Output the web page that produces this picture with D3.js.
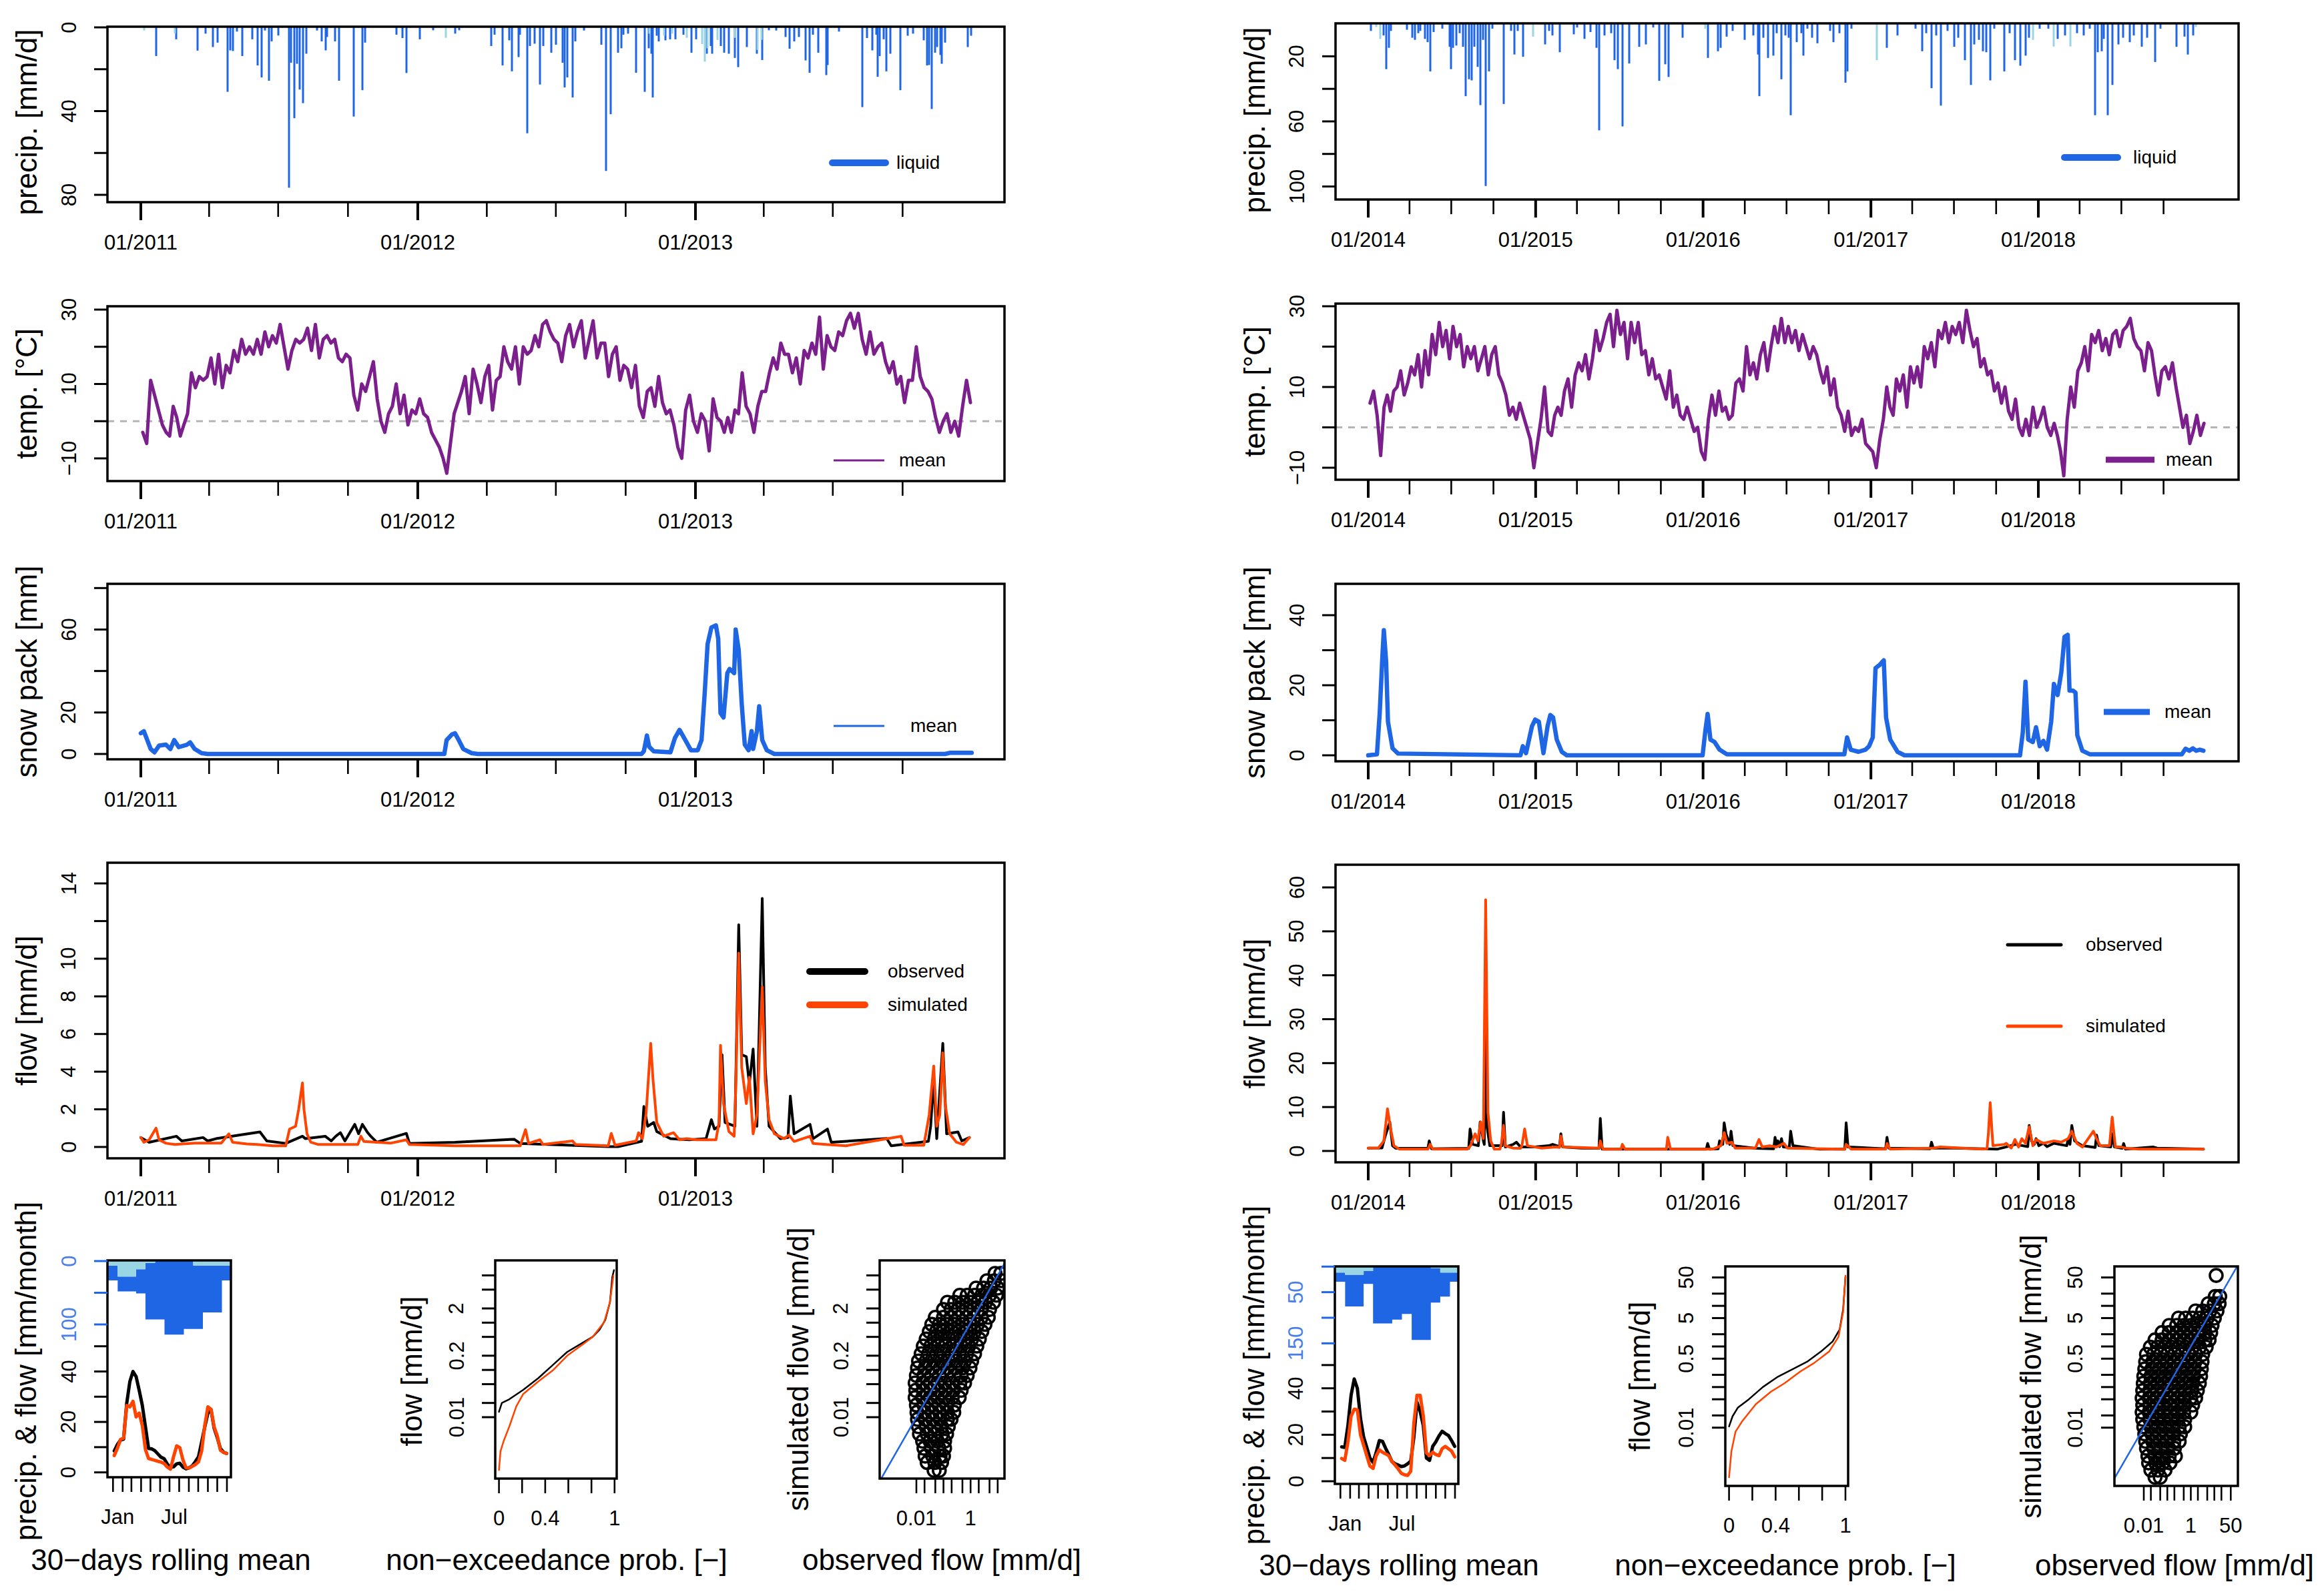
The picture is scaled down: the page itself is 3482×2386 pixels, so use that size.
<!DOCTYPE html>
<html lang="en">
<head>
<meta charset="UTF-8">
<title>Hydrological model overview</title>
<script src="https://d3js.org/d3.v7.min.js"></script>
<style>
  body { margin: 0; background: #fff; }
  text { font-family: "Liberation Sans", Arial, sans-serif; }
</style>
</head>
<body>
<script>
// ---------- data: 2011-2013 (left) ----------
// temperature, 6 readings per month from Jan 2011
const tempL = [
 -3,-6,11,7,3,-1, -3,-4,4,1,-4,-1, 2,13,9,12,11,12, 17,10,18,9,15,13, 19,16,22,18,20,18, 22,18,24,20,23,21,
 26,20,14,19,22,21, 22,25,19,26,17,22, 23,21,22,17,16,18, 17,7,3,10,8,12, 16,6,0,-3,2,4, 10,2,7,-1,3,2,
 6,2,1,-3,-5,-7, -10,-14,-6,2,5,8, 12,2,14,10,5,12, 15,3,11,12,20,16, 14,20,10,20,18,19, 23,20,26,27,24,22,
 21,16,23,26,20,24, 27,17,22,27,17,21, 21,12,18,20,11,15, 14,9,15,4,1,8, 9,4,12,5,2,3, -1,-7,-10,3,7,0,
 -3,2,0,-8,6,1, 0,-3,1,-3,3,2, 13,4,2,-3,4,8, 8,13,17,14,21,18, 18,13,17,10,19,17, 21,18,28,14,23,20,
 19,24,23,27,29,25, 29,22,18,24,18,20, 21,16,13,16,10,12, 5,11,11,20,12,9, 8,6,1,-3,0,2, -3,0,-4,4,11,5
];
// daily precipitation peaks: day since 2011-01-01, mm/d
const precipDayL = [20,47,75,85,95,101,114,118,121,127,134,147,154,159,164,169,172,181,195,198,202,206,209,214,218,232,238,244,245,256,261,281,292,296,337,345,350,368,385,414,420,462,466,477,486,489,498,500,509,513,519,526,530,541,547,556,559,562,569,573,584,607,613,619,629,633,636,642,653,664,669,673,675,680,683,691,698,705,715,726,732,746,751,753,764,769,775,783,787,799,812,819,828,837,850,855,861,867,876,881,886,893,903,905,920,951,957,964,969,971,974,979,983,988,1001,1011,1018,1032,1036,1039,1042,1047,1049,1054,1056,1060,1090,1094];
const precipL = [13.7,5.7,11.1,3,9.4,7.3,30.8,11,11.3,2,13.7,5.7,18.2,23.9,1.5,25.5,6.7,3.9,76.6,16.9,43.4,17.4,29.7,36.2,12.6,1.5,6.7,11,4.6,6.7,25.5,42.6,30,7.3,3.5,5.1,21.8,5.7,1.4,3,1.4,8.9,3.5,18.2,6.2,21,14.2,3.5,50.6,8.9,7.8,27.3,8.9,12.1,8.3,16.9,28.7,23.9,33.5,6.7,1.5,8.3,68.6,41.5,12.1,10,3.5,3,21.7,30.8,10,12.6,33.5,4,6.7,6.2,5.7,5.7,3.5,12.1,5.7,12.6,8.9,12.6,8.9,12.1,12.6,14.6,19,9.4,12.6,15.6,1.4,1.5,4.6,10.2,6.7,4.6,15.8,21.7,3.5,12.1,22.8,18,2,38.1,5.1,11,3.5,23.6,13.7,5.7,21,12.6,30,4,3,6.2,18.2,18,39,12.1,9.4,13.2,17.4,7.3,9.4,4];
const snowfallDayL = [4,45,402,670,690,700,720,740,743,747,760,783,813,818];
const snowfallL = [1.5,3,5,3,4,3,5,8,16.4,10,6,5,10.8,6];
// snow pack break points
const sweDayL = [0,4,13,18,24,33,39,44,50,61,65,71,80,88,400,403,410,414,419,425,436,444,660,663,667,670,676,698,704,710,716,725,734,739,743,747,752,758,761,764,768,773,776,782,784,788,792,796,801,805,807,812,815,819,825,835,1060,1067,1095];
const sweL = [10,11,2.4,0.8,4,4.5,2.4,6.7,3.3,4.5,5.6,2.4,0.4,0,0,6.7,9.4,10,6.7,2.4,0.4,0,0,1.3,8.9,3.5,1.3,0.8,7.8,11.6,7.8,1.8,1.8,6.7,28.4,53,61,62,55.5,19.7,17.6,39,41,39,60,50,24,4.5,1.8,11,2.4,11,23,6.7,1.8,0,0,0.6,0.6];
// streamflow break points
const obsDayL = [0,11,47,54,82,88,99,157,166,191,213,217,243,251,257,263,269,282,287,292,299,303,311,350,354,414,492,500,616,629,660,663,668,676,680,698,723,745,752,756,762,766,770,783,788,792,798,802,807,812,819,823,828,843,853,856,861,882,886,905,910,983,989,1038,1041,1045,1049,1057,1062,1077,1082,1092];
const obsL = [0.5,0.25,0.57,0.32,0.5,0.32,0.44,0.8,0.32,0.19,0.57,0.44,0.57,0.32,0.57,0.76,0.32,1.2,0.7,1.2,0.76,0.57,0.25,0.72,0.19,0.25,0.41,0.19,0.02,0.02,0.3,2.15,1.1,1.3,0.82,0.44,0.38,0.44,1.45,0.95,1.1,4.9,1.3,1.1,11.8,4.9,4.8,3.35,5.2,1.1,13.2,4.2,1.1,0.44,0.5,2.7,0.7,1.2,0.44,0.95,0.25,0.45,0.06,0.3,1.1,3.6,0.44,5.5,0.7,0.8,0.32,0.5];
const simDayL = [0,4,11,20,24,33,45,71,106,116,121,140,153,174,191,196,204,208,213,215,219,224,234,286,290,294,329,350,354,414,500,507,511,526,530,569,573,616,620,625,653,656,661,666,672,675,680,689,702,710,719,732,758,762,764,768,775,782,784,788,792,798,802,807,812,819,823,828,835,848,854,861,882,886,903,929,1002,1006,1032,1039,1045,1049,1053,1057,1060,1066,1075,1084,1092];
const simL = [0.5,0.25,0.38,1.0,0.38,0.2,0.13,0.2,0.2,0.7,0.25,0.16,0.13,0.06,0.06,0.95,1.1,2,3.4,2,0.7,0.25,0.13,0.13,0.57,0.29,0.2,0.38,0.13,0.06,0.06,0.92,0.19,0.38,0.13,0.32,0.13,0.06,0.72,0.09,0.32,0.76,0.44,1.8,5.5,3.6,1.3,0.57,0.76,0.38,0.44,0.38,0.38,1.3,5.4,2.3,0.82,0.57,3,10.3,4.2,2.3,3.7,0.7,1.7,8.5,3.5,1.45,0.7,0.44,0.63,0.29,0.57,0.19,0.13,0.06,0.57,0.09,0.09,1.7,4.3,1.1,1.7,5,2.3,0.7,0.25,0.13,0.5];

// ---------- data: 2014-2018 (right) ----------
// temperature, 4 readings per month from Jan 2014
const tempR = [
 6,9,3,-7, 5,8,4,9, 10,14,8,11, 15,13,18,10, 19,13,23,18, 26,20,24,17, 25,20,23,15, 20,17,20,14, 17,20,13,18, 20,13,11,8, 3,5,2,6, 3,0,-3,-10,
 -4,2,10,-1, -2,3,5,3, 9,12,5,13, 16,14,18,12, 17,24,19,22, 26,28,20,29, 23,26,17,26, 21,26,18,19, 13,17,12,13, 10,7,14,5, 8,3,2,5, 2,-1,0,-6,
 -8,2,8,3, 9,4,5,2, 3,11,12,9, 20,13,16,12, 18,21,14,20, 25,21,27,21, 25,21,24,19, 23,20,17,20, 18,14,11,15, 8,12,5,3, -1,4,-2,0, -1,2,-4,-5,
 -6,-10,-3,2, 10,5,3,12, 9,13,5,15, 11,15,10,20, 17,21,15,24, 22,26,21,25, 23,26,21,29, 24,20,22,15, 17,13,14,9, 11,6,10,4, 2,7,0,-2, 2,-2,5,0,
 2,5,0,-2, 1,-2,-6,-12, 2,10,5,14, 16,20,14,23, 21,24,19,22, 18,23,24,20, 24,25,27,22, 20,19,14,21, 19,13,8,14, 15,12,16,10, 5,0,3,-4, -1,3,-2,1
];
const precipDayR = [6,34,40,45,50,84,96,102,109,113,123,130,135,143,161,177,180,185,192,200,206,213,220,226,231,239,245,250,256,264,270,295,312,318,326,338,386,394,402,417,448,456,472,484,498,504,515,529,537,544,554,569,591,606,622,634,647,655,686,740,763,769,782,794,821,839,850,853,862,872,884,890,901,909,917,921,934,945,949,957,968,979,1007,1014,1028,1041,1045,1053,1131,1154,1193,1208,1216,1228,1239,1249,1263,1278,1286,1301,1314,1322,1332,1340,1348,1356,1365,1387,1399,1410,1422,1433,1441,1464,1483,1503,1519,1545,1560,1573,1585,1591,1599,1604,1613,1622,1635,1646,1661,1669,1686,1698,1716,1728,1762,1779,1787,1798];
const precipR = [4.4,7.2,27.9,14.8,4.4,3.7,8.6,9.9,5.8,4.4,9.3,11.3,29.3,5.1,3,14.1,27.9,14.8,13.4,5.8,14.1,44.5,34.1,34.8,14.1,26.5,50,9.9,99.7,29.3,3,49.3,4.4,18.9,4.4,20.3,12.7,4.4,7.2,17.5,6.5,2.3,9.3,5.1,14.8,65.5,7.2,5.8,22.4,27.9,63.1,24.4,14.1,12.7,2.3,35.1,24.9,32.7,8.6,21,16.9,14.8,7.9,4.4,9.9,7.2,18.9,44.5,8.6,21,19.6,5.8,34.1,7.2,8.6,56.2,11.3,5.8,19.6,3,8.6,12,4.4,11.3,5.8,36.2,29.3,3,14.8,7.2,3,16.9,5.8,39.6,7.2,50.3,4.4,14.1,8.6,22.4,37.6,12.7,9.9,16.9,17.5,34.8,3,29.3,5.8,22.4,25.8,19.6,8.6,3,3,9.3,7.2,5.8,7.2,3,56.2,17.5,16.9,9.3,56.2,37.6,12.7,8.6,11.3,7.2,14.1,8.6,23.5,3,14.1,7.9,18.9,7.2];
const snowfallDayR = [17,26,360,735,1109,1449,1495,1531,1805];
const snowfallR = [2,9.3,7.9,3,22.4,9.9,14,14,2];
const sweDayR = [0,19,25,31,34,39,43,53,65,332,337,344,357,364,372,382,391,397,403,411,422,433,729,735,740,746,755,766,782,1038,1044,1052,1069,1084,1092,1100,1106,1115,1124,1129,1138,1154,1169,1421,1427,1433,1439,1449,1456,1464,1472,1480,1489,1495,1503,1511,1518,1525,1529,1536,1542,1546,1557,1573,1774,1782,1790,1798,1805,1813,1821];
const sweR = [0,0.3,12,28.7,35.7,26.8,9.6,2,0.5,0,2.6,0.6,8.3,10.2,9.6,0.6,8.3,11.5,10.8,4.5,1,0,0,7,11.8,4.5,3.8,1.6,0.3,0.3,5.1,1.6,1,1.6,2.6,5.1,24.9,25.8,27.1,10.8,4.5,1,0,0,6.4,21,4.5,3.8,8,2.6,4.1,1.6,9.6,20.4,17.2,23.6,33.8,34.4,18.5,18.5,17.9,5.7,1.3,0.3,0.3,1.9,1.3,2,1.3,1.6,1.3];
const obsDayR = [0,30,37,47,53,60,130,133,138,219,222,228,240,244,251,253,256,259,265,292,295,299,316,323,332,363,394,402,417,420,424,464,503,506,510,658,737,740,744,763,766,773,776,780,788,791,795,844,884,887,890,893,897,901,905,918,921,926,983,1039,1042,1046,1128,1131,1135,1225,1228,1232,1278,1371,1390,1411,1438,1441,1446,1452,1456,1462,1472,1480,1495,1523,1526,1530,1534,1540,1557,1585,1588,1593,1619,1622,1627,1644,1647,1651,1712,1720,1821];
const obsR = [0.65,0.7,3.4,6.6,1.2,0.6,0.6,2.3,0.5,0.6,5,1.5,1.2,6.6,2.3,1.5,35,5.5,1.2,1.2,8.8,0.9,1.5,2,0.9,0.9,1.2,1.5,1,3.9,0.9,0.65,0.6,7.4,0.4,0.4,0.4,1.7,0.4,0.5,2.3,1.5,6.4,3.9,1.5,4.5,1.2,0.6,0.5,3.1,1.5,2.3,1,2.8,0.9,0.8,4.5,1.2,0.4,0.4,6.4,0.9,0.5,3.1,0.65,0.5,2,0.65,0.65,0.4,0.9,1.5,1,5.8,2.3,1.5,2.8,1.2,1.75,1,1.75,1.2,2.8,1.5,5.8,2.3,1.2,0.8,3.6,1.2,0.9,3.9,0.9,0.6,1.7,0.4,0.9,0.65,0.4];
const simDayR = [0,22,34,42,48,56,68,130,135,141,216,223,233,239,245,251,256,261,267,275,287,290,295,299,316,332,335,341,347,378,409,417,420,425,503,506,512,551,554,560,642,650,653,659,751,769,776,782,793,800,844,852,859,875,890,906,914,1030,1039,1042,1053,1123,1128,1131,1138,1231,1247,1340,1349,1352,1356,1362,1387,1391,1402,1410,1418,1425,1433,1441,1449,1456,1472,1495,1511,1526,1534,1545,1557,1581,1588,1596,1616,1622,1629,1643,1650,1681,1821];
const simR = [0.65,0.65,2.3,9.6,5.5,1.2,0.4,0.4,1.5,0.4,0.4,1.2,3.9,2.3,6.6,2.8,57.2,8.8,2.3,0.4,0.4,1.5,5.8,1.2,0.65,0.6,1.2,5,1.2,0.65,0.9,0.8,3.4,0.9,0.65,2.3,0.4,0.4,1.5,0.4,0.4,0.4,3.1,0.4,0.4,1.2,4.2,1.75,2,0.65,0.65,2.6,0.9,1.2,0.9,1.75,0.65,0.4,0.4,1.5,0.4,0.4,0.4,1.7,0.4,0.65,0.9,0.4,0.5,3.9,11,1.2,1.5,1.75,0.65,2.6,0.9,2.8,1.75,5.5,1.2,2.6,1.75,2.3,2,2.8,4.5,1.75,0.9,4.5,2.8,1.2,1.2,7.7,0.9,0.9,0.65,0.4,0.4];

// ---------- seasonal summaries ----------
const monthMid = [16,45,75,105,136,166,197,228,258,289,319,350];
const monthStart = [1,32,60,91,121,152,182,213,244,274,305,335,366];
const liquidMonL = [23.4,23.4,38,89,92,116,116,107,100,74,74,23.5];
const snowMonL = [24.6,24.6,13,3,0,0,0,0,7,7,7,7];
const liquidMonR = [62,62,25.3,111,111,103.5,92.6,143.4,143.4,67.4,47,17.9];
const snowMonR = [16,16,8.7,0,0,0,0,0,0,3,11.7,11.7];
const rollDoy = [5,15,25,35,45,55,65,75,85,95,105,115,125,135,145,155,165,175,185,195,205,215,225,235,245,255,265,275,285,295,305,315,325,335,345,355,365];
const rollObsL = [8.5,11,12.8,13.2,27.4,36,40,38,32.5,26.5,18,9.5,9.3,8.6,7.3,6,5.4,3.3,2,2.2,3.4,3.6,2.1,1.4,1.8,2.6,4.3,6.2,12,18,23.5,24.9,17.5,13.8,9.5,8,7.5];
const rollSimL = [6.7,9.5,13,13.6,26.5,26,28.2,22,23.5,18.5,9,5.5,5.1,4.8,4.4,4.1,3.5,2.1,1.3,6.2,10.5,9.8,5,1.8,1.8,2.4,3.1,4.2,8.5,18.5,26,25,18,14.5,8.8,7.9,7.5];
const rollObsR = [14.8,14.6,24,37,44,40,27,19,14.6,10,8.1,12.4,17.5,17.2,14.2,11.5,8.5,7.5,7,6.3,6.6,7.5,8.6,19,34,30,24,10,9,15,17,19.5,21.5,20.5,19.7,17.5,15];
const rollSimR = [9.8,9,17,28,31,30.7,20,15.5,11,6.5,5.5,11,13.5,12.5,11.8,11,8.5,7,5.3,3.4,2.8,2.5,4.3,25,37,37,28,12.2,11,12.5,11.5,11,14,15,14,13,10.5];
// flow duration curves
const fdcObsPL = [0,0.025,0.09,0.21,0.34,0.47,0.59,0.72,0.81,0.87,0.92,0.96,0.98,0.995];
const fdcObsL = [0.013,0.02,0.024,0.038,0.067,0.13,0.24,0.37,0.5,0.71,1.15,2.7,9.1,13];
const fdcSimPL = [0,0.013,0.04,0.09,0.15,0.21,0.34,0.47,0.59,0.72,0.81,0.91,0.96,0.99];
const fdcSimL = [0.00076,0.0019,0.0031,0.0064,0.017,0.031,0.057,0.1,0.2,0.34,0.5,1.03,2.7,10];
const fdcObsPR = [0,0.03,0.075,0.17,0.29,0.42,0.54,0.67,0.79,0.89,0.95,0.98,1];
const fdcObsR = [0.0107,0.019,0.031,0.05,0.1,0.18,0.27,0.42,0.75,1.33,2.6,8.2,51];
const fdcSimPR = [0,0.02,0.056,0.11,0.23,0.36,0.48,0.61,0.73,0.86,0.94,0.98,1];
const fdcSimR = [0.0006,0.0026,0.008,0.014,0.038,0.077,0.126,0.24,0.39,0.75,1.72,7.1,55];
// observed vs simulated daily flow: one simulated level per row, observed values in that row
const scatSimRowsL = [11,7.7,5.4,3.8,2.7,1.9,1.3,0.92,0.65,0.45,0.32,0.22,0.155,0.11,0.076,0.053,0.037,0.026,0.018,0.0127,0.009,0.0063,0.0044,0.0031,0.0022,0.0015,0.0011,0.00075];
const scatObsRowsL = [
 [8,13],[4,7.5,14],[1.6,3,5.5,10],[0.4,0.75,1.4,2.6,5,9],[0.14,0.26,0.5,1,1.9,3.6,7],[0.1,0.19,0.36,0.7,1.3,2.5,5],
 [0.05,0.1,0.19,0.36,0.7,1.3,2.5,4.5],[0.037,0.07,0.13,0.25,0.5,0.95,1.8,3.4],[0.03,0.055,0.1,0.2,0.38,0.72,1.4,2.6],
 [0.023,0.045,0.085,0.16,0.3,0.58,1.1,2.1],[0.018,0.034,0.065,0.12,0.24,0.45,0.85,1.7],[0.015,0.028,0.055,0.1,0.2,0.38,0.72,1.4],
 [0.012,0.023,0.045,0.085,0.16,0.3,0.6,1.1],[0.011,0.021,0.04,0.075,0.14,0.27,0.5,0.95],[0.01,0.019,0.036,0.07,0.13,0.25,0.45,0.75],
 [0.009,0.017,0.032,0.06,0.11,0.21,0.4,0.6],[0.0095,0.018,0.034,0.065,0.12,0.23,0.45],[0.009,0.017,0.032,0.06,0.11,0.21,0.38],
 [0.01,0.019,0.036,0.068,0.13,0.25],[0.0105,0.02,0.038,0.072,0.14,0.24],[0.011,0.021,0.04,0.075,0.14,0.19],[0.012,0.023,0.045,0.085,0.15],
 [0.013,0.025,0.048,0.09,0.13],[0.017,0.032,0.06,0.11],[0.019,0.036,0.068,0.11],[0.021,0.04,0.075,0.1],[0.025,0.048,0.085],[0.045,0.07]
];
const scatSimRowsR = [56,17,11.3,7.5,5,3.3,2.2,1.45,0.96,0.64,0.42,0.28,0.186,0.124,0.082,0.054,0.036,0.024,0.016,0.0105,0.007,0.0046,0.0031,0.002,0.00135,0.0009,0.0006];
const scatObsRowsR = [
 [12],[11,17],[5.5,10,16],[1.6,3.2,6.5,13],[0.3,0.6,1.2,2.4,5,10],[0.12,0.25,0.5,1,2,4,8],[0.06,0.12,0.25,0.5,1,2,4,7],
 [0.03,0.06,0.12,0.25,0.5,1,2,4,6],[0.019,0.038,0.075,0.15,0.3,0.6,1.2,2.4,4.5],[0.013,0.026,0.052,0.1,0.2,0.4,0.8,1.6,3.2],
 [0.012,0.024,0.048,0.095,0.19,0.38,0.75,1.5,3],[0.011,0.022,0.045,0.09,0.18,0.36,0.7,1.4,2.8],[0.01,0.02,0.04,0.08,0.16,0.32,0.65,1.3,2.6],
 [0.0095,0.019,0.038,0.075,0.15,0.3,0.6,1.2,2.3],[0.009,0.018,0.036,0.07,0.14,0.28,0.55,1.1,1.9],[0.0085,0.017,0.034,0.068,0.13,0.27,0.52,1,1.6],
 [0.009,0.018,0.036,0.07,0.14,0.28,0.55,1.2],[0.0085,0.017,0.034,0.068,0.13,0.26,0.5,1],[0.009,0.018,0.036,0.07,0.14,0.28,0.55],
 [0.01,0.02,0.04,0.08,0.16,0.32,0.55],[0.011,0.022,0.045,0.09,0.18,0.36],[0.012,0.024,0.048,0.095,0.19,0.32],[0.013,0.026,0.052,0.1,0.2],
 [0.015,0.03,0.06,0.12,0.22],[0.016,0.032,0.065,0.13],[0.02,0.04,0.08],[0.03,0.05]
];

// ---------- drawing ----------
const BLUE = '#1f66e5', LIGHT = '#9ad5e4', PURPLE = '#7b1f8c', RED = '#ff4300', TICKBLUE = '#4a7ee8';
const svg = d3.select('body').append('svg').attr('width', 3482).attr('height', 2386);
svg.append('rect').attr('width', 3482).attr('height', 2386).attr('fill', '#fff');

function txt(x, y, s, size, o = {}) {
  const t = svg.append('text').attr('x', x).attr('y', y).attr('font-size', size)
    .attr('text-anchor', o.anchor || 'middle').attr('fill', o.fill || '#000').text(s);
  if (o.rot) t.attr('dominant-baseline', 'central').attr('transform', `rotate(-90 ${x} ${y})`);
  return t;
}
function line(x1, y1, x2, y2, color, w, cap) {
  return svg.append('line').attr('x1', x1).attr('y1', y1).attr('x2', x2).attr('y2', y2)
    .attr('stroke', color).attr('stroke-width', w).attr('stroke-linecap', cap || 'butt');
}
function box(x0, y0, x1, y1) {
  svg.append('rect').attr('x', x0).attr('y', y0).attr('width', x1 - x0).attr('height', y1 - y0)
    .attr('fill', 'none').attr('stroke', '#000').attr('stroke-width', 3.5);
}
function yAxis(x0, scale, ticks, labels, color) {
  color = color || '#000';
  ticks.forEach(v => line(x0 - 20, scale(v), x0, scale(v), color, 3));
  labels.forEach(v => txt(x0 - 58, scale(v), String(v).replace('-', '\u2212'), 31, { rot: true, fill: color === '#000' ? '#000' : TICKBLUE }));
}
function path(pts, color, w) {
  svg.append('path').attr('d', d3.line()(pts)).attr('fill', 'none').attr('stroke', color)
    .attr('stroke-width', w).attr('stroke-linejoin', 'round').attr('stroke-linecap', 'round');
}
function monthSteps(start, n, per) {
  const out = [];
  for (let m = 0; m < n; m++) {
    const a = d3.timeMonth.offset(start, m), b = d3.timeMonth.offset(start, m + 1);
    for (let k = 0; k < per; k++) out.push(new Date(+a + (k + 0.5) / per * (b - a)));
  }
  return out;
}

const sides = [
  { x0: 161, x1: 1505, titleX: 39, start: new Date(2011, 0, 1), end: new Date(2014, 0, 1),
    x: d3.scaleTime().domain([new Date(2011, 0, 1), new Date(2013, 0, 1)]).range([211, 1042]),
    precip: { y: [40, 303], s: d3.scaleLinear([0, 80], [41, 292]), ticks: [0, 20, 40, 60, 80], labels: [0, 40, 80], title: 183 },
    temp: { y: [459, 721], s: d3.scaleLinear([-10, 30], [687, 464]), labels: [-10, 10, 30] },
    snow: { y: [875, 1138], s: d3.scaleLinear([0, 60], [1130, 943.5]), ticks: [0, 20, 40, 60, 80], labels: [0, 20, 60] },
    flow: { y: [1293, 1736], s: d3.scaleLinear([0, 14], [1719, 1324]), ticks: d3.range(0, 15, 2), labels: [0, 2, 4, 6, 8, 10, 14] },
    temps: tempL, perMonth: 6, months: 36,
    pDay: precipDayL, p: precipL, sfDay: snowfallDayL, sf: snowfallL, sweDay: sweDayL, swe: sweL,
    oDay: obsDayL, o: obsL, sDay: simDayL, s: simL,
    leg: { liquid: [1247, 1327, 244, 10], tmean: [1249, 1325, 690, 3], smean: [1249, 1325, 1088, 3], textGap: [16, 22, 39],
           obs: [1213, 1296, 1456, 10], sim: [1213, 1296, 1506, 10], flowText: 1330 },
    barW: 3
  },
  { x0: 2001, x1: 3354, titleX: 1879, start: new Date(2014, 0, 1), end: new Date(2019, 0, 1),
    x: d3.scaleTime().domain([new Date(2014, 0, 1), new Date(2018, 0, 1)]).range([2050, 3054]),
    precip: { y: [35, 299], s: d3.scaleLinear([0, 100], [35.6, 279.5]), ticks: [20, 40, 60, 80, 100], labels: [20, 60, 100], title: 180 },
    temp: { y: [455, 719], s: d3.scaleLinear([-10, 30], [701, 459]), labels: [-10, 10, 30] },
    snow: { y: [875, 1141], s: d3.scaleLinear([0, 40], [1132, 922]), ticks: [0, 10, 20, 30, 40], labels: [0, 20, 40] },
    flow: { y: [1296, 1742], s: d3.scaleLinear([0, 60], [1725, 1330]), ticks: d3.range(0, 61, 10), labels: d3.range(0, 61, 10) },
    temps: tempR, perMonth: 4, months: 60,
    pDay: precipDayR, p: precipR, sfDay: snowfallDayR, sf: snowfallR, sweDay: sweDayR, swe: sweR,
    oDay: obsDayR, o: obsR, sDay: simDayR, s: simR,
    leg: { liquid: [3093, 3173, 236, 10], tmean: [3155, 3228, 689, 9], smean: [3152, 3221, 1067, 9], textGap: [23, 17, 22],
           obs: [3008, 3088, 1416, 5], sim: [3008, 3088, 1538, 5], flowText: 3125 },
    barW: 3
  }
];

sides.forEach(S => {
  const day = d => d3.timeDay.offset(S.start, d);
  const ticksT = d3.timeMonth.every(3).range(S.start, S.end);
  function timeAxis(yb) {
    ticksT.forEach(t => {
      const major = t.getMonth() === 0;
      line(S.x(t), yb, S.x(t), yb + (major ? 27 : 22), '#000', major ? 4 : 2.6);
      if (major) txt(S.x(t), yb + 71, d3.timeFormat('%m/%Y')(t), 31);
    });
  }

  // precipitation
  const P = S.precip;
  S.pDay.forEach((d, i) => line(Math.round(S.x(day(d))), P.s(0), Math.round(S.x(day(d))), P.s(S.p[i]), BLUE, S.barW));
  S.sfDay.forEach((d, i) => line(Math.round(S.x(day(d))), P.s(0), Math.round(S.x(day(d))), P.s(S.sf[i]), LIGHT, S.barW));
  box(S.x0, P.y[0], S.x1, P.y[1]);
  yAxis(S.x0, P.s, P.ticks, P.labels);
  timeAxis(P.y[1]);
  txt(S.titleX, P.title, 'precip. [mm/d]', 44, { rot: true });
  line(S.leg.liquid[0], S.leg.liquid[2], S.leg.liquid[1], S.leg.liquid[2], BLUE, S.leg.liquid[3], 'round');
  txt(S.leg.liquid[1] + S.leg.textGap[0], S.leg.liquid[2] + 9, 'liquid', 28, { anchor: 'start' });

  // temperature
  const T = S.temp;
  svg.append('line').attr('x1', S.x0).attr('x2', S.x1).attr('y1', T.s(0)).attr('y2', T.s(0))
    .attr('stroke', '#b5b5b5').attr('stroke-width', 3).attr('stroke-dasharray', '10,9');
  const tDates = monthSteps(S.start, S.months, S.perMonth);
  path(S.temps.map((v, i) => [S.x(tDates[i]), T.s(v)]), PURPLE, 5);
  box(S.x0, T.y[0], S.x1, T.y[1]);
  yAxis(S.x0, T.s, [-10, 0, 10, 20, 30], T.labels);
  timeAxis(T.y[1]);
  txt(S.titleX, (T.y[0] + T.y[1]) / 2, 'temp. [\u00b0C]', 44, { rot: true });
  line(S.leg.tmean[0], S.leg.tmean[2], S.leg.tmean[1], S.leg.tmean[2], PURPLE, S.leg.tmean[3]);
  txt(S.leg.tmean[1] + S.leg.textGap[1], S.leg.tmean[2] + 9, 'mean', 28, { anchor: 'start' });

  // snow pack
  const N = S.snow;
  path(S.sweDay.map((d, i) => [S.x(day(d)), N.s(S.swe[i])]), BLUE, 6.5);
  box(S.x0, N.y[0], S.x1, N.y[1]);
  yAxis(S.x0, N.s, N.ticks, N.labels);
  timeAxis(N.y[1]);
  txt(S.titleX, (N.y[0] + N.y[1]) / 2, 'snow pack [mm]', 44, { rot: true });
  line(S.leg.smean[0], S.leg.smean[2], S.leg.smean[1], S.leg.smean[2], BLUE, S.leg.smean[3]);
  txt(S.leg.smean[1] + S.leg.textGap[2], S.leg.smean[2] + 9, 'mean', 28, { anchor: 'start' });

  // streamflow
  const F = S.flow;
  path(S.oDay.map((d, i) => [S.x(day(d)), F.s(S.o[i])]), '#000', 4);
  path(S.sDay.map((d, i) => [S.x(day(d)), F.s(S.s[i])]), RED, 4);
  box(S.x0, F.y[0], S.x1, F.y[1]);
  yAxis(S.x0, F.s, F.ticks, F.labels);
  timeAxis(F.y[1]);
  txt(S.titleX, (F.y[0] + F.y[1]) / 2, 'flow [mm/d]', 44, { rot: true });
  line(S.leg.obs[0], S.leg.obs[2], S.leg.obs[1], S.leg.obs[2], '#000', S.leg.obs[3], 'round');
  txt(S.leg.flowText, S.leg.obs[2] + 9, 'observed', 28, { anchor: 'start' });
  line(S.leg.sim[0], S.leg.sim[2], S.leg.sim[1], S.leg.sim[2], RED, S.leg.sim[3], 'round');
  txt(S.leg.flowText, S.leg.sim[2] + 9, 'simulated', 28, { anchor: 'start' });
});

// ---------- bottom row ----------
const bottoms = [
  { roll: [161, 1889, 346, 2214], rx: d3.scaleLinear([1, 366], [169.3, 340]),
    rp: d3.scaleLinear([0, 100], [1890, 1985]), pTicks: [0, 50, 100], pLabels: [0, 100],
    rq: d3.scaleLinear([0, 40], [2206.7, 2055.5]),
    liq: liquidMonL, sn: snowMonL, ro: rollObsL, rs: rollSimL,
    fdc: [742, 1889, 924, 2216], fx: d3.scaleLinear([0, 1], [747.6, 920.8]),
    fy: d3.scaleLog([0.01, 10], [2124, 1911.5]), yTicks: [0.01, 0.02, 0.05, 0.1, 0.2, 0.5, 1, 2, 5, 10], yLabels: ['0.01', '0.2', '2'],
    fo: [fdcObsPL, fdcObsL], fs: [fdcSimPL, fdcSimL],
    sc: [1318, 1889, 1505, 2216], sx: d3.scaleLog([0.01, 10], [1373, 1494.8]),
    xTicks: [0.01, 0.02, 0.05, 0.1, 0.2, 0.5, 1, 2, 5, 10], xLabels: ['0.01', '1'],
    simRows: scatSimRowsL, obsRows: scatObsRowsL,
    titles: [[38, 2055], [616, 2055], [1195, 2052]], xt: [[256, 834, 1411], 2353], lab: 70, id: 'L' },
  { roll: [2000, 1898, 2185, 2224], rx: d3.scaleLinear([1, 366], [2008.3, 2180]),
    rp: d3.scaleLinear([0, 150], [1898.3, 2013.3]), pTicks: [0, 50, 100, 150], pLabels: [50, 150],
    rq: d3.scaleLinear([0, 40], [2220, 2080.7]),
    liq: liquidMonR, sn: snowMonR, ro: rollObsR, rs: rollSimR,
    fdc: [2585, 1898, 2769, 2227], fx: d3.scaleLinear([0, 1], [2590.6, 2765]),
    fy: d3.scaleLog([0.01, 50], [2139.7, 1914.6]), yTicks: [0.01, 0.02, 0.05, 0.1, 0.2, 0.5, 1, 2, 5, 10, 20, 50], yLabels: ['0.01', '0.5', '5', '50'],
    fo: [fdcObsPR, fdcObsR], fs: [fdcSimPR, fdcSimR],
    sc: [3168, 1898, 3353, 2227], sx: d3.scaleLog([0.01, 50], [3212, 3342.3]),
    xTicks: [0.01, 0.02, 0.05, 0.1, 0.2, 0.5, 1, 2, 5, 10, 20, 50], xLabels: ['0.01', '1', '50'],
    simRows: scatSimRowsR, obsRows: scatObsRowsR,
    titles: [[1878, 2061], [2456, 2063], [3042, 2063]], xt: [[2096, 2675, 3258], 2361], lab: 70, id: 'R' }
];

bottoms.forEach(B => {
  // seasonal panel: monthly precipitation bars hanging from the top, rolling mean flows below
  const [x0, y0, x1, y1] = B.roll;
  const dLeft = B.rx.invert(x0), dRight = B.rx.invert(x1);
  const pts = [{ d: dLeft, i: 11 }].concat(monthMid.map((d, i) => ({ d, i }))).concat([{ d: dRight, i: 11 }]);
  const snowArea = d3.area().curve(d3.curveStepAfter).x(p => B.rx(p.d)).y0(B.rp(0)).y1(p => B.rp(B.sn[p.i]));
  const liqArea = d3.area().curve(d3.curveStepAfter).x(p => B.rx(p.d))
    .y0(p => B.rp(B.sn[p.i])).y1(p => B.rp(B.sn[p.i] + B.liq[p.i]));
  svg.append('path').attr('d', liqArea(pts)).attr('fill', BLUE);
  svg.append('path').attr('d', snowArea(pts)).attr('fill', LIGHT);
  path(rollDoy.map((d, i) => [B.rx(d), B.rq(B.ro[i])]), '#000', 5);
  path(rollDoy.map((d, i) => [B.rx(d), B.rq(B.rs[i])]), RED, 5);
  box(x0, y0, x1, y1);
  yAxis(x0, B.rp, B.pTicks, B.pLabels, BLUE);
  yAxis(x0, B.rq, [0, 10, 20, 30, 40, 50], [0, 20, 40]);
  monthStart.forEach(d => line(B.rx(d), y1, B.rx(d), y1 + 22, '#000', 2.6));
  txt(B.rx(16), y1 + B.lab, 'Jan', 31);
  txt(B.rx(197), y1 + B.lab, 'Jul', 31);
  txt(B.titles[0][0], B.titles[0][1], 'precip. & flow [mm/month]', 44, { rot: true });
  txt(B.xt[0][0], B.xt[1], '30\u2212days rolling mean', 44);

  // flow duration curve
  const [f0, g0, f1, g1] = B.fdc;
  path(B.fo[0].map((p, i) => [B.fx(p), B.fy(B.fo[1][i])]), '#000', 2.5);
  path(B.fs[0].map((p, i) => [B.fx(p), B.fy(B.fs[1][i])]), RED, 2.5);
  box(f0, g0, f1, g1);
  B.yTicks.forEach(v => line(f0 - 20, B.fy(v), f0, B.fy(v), '#000', 3));
  B.yLabels.forEach(s => txt(f0 - 58, B.fy(+s), s, 31, { rot: true }));
  [0, 0.2, 0.4, 0.6, 0.8, 1].forEach(v => line(B.fx(v), g1, B.fx(v), g1 + 22, '#000', 2.6));
  ['0', '0.4', '1'].forEach(s => txt(B.fx(+s), g1 + B.lab, s, 31));
  txt(B.titles[1][0], B.titles[1][1], 'flow [mm/d]', 44, { rot: true });
  txt(B.xt[0][1], B.xt[1], 'non\u2212exceedance prob. [\u2212]', 44);

  // observed vs simulated
  const [s0, t0, s1, t1] = B.sc;
  const pairs = [];
  B.simRows.forEach((sim, r) => B.obsRows[r].forEach(obs => pairs.push([obs, sim])));
  const clipId = 'clip' + B.id;
  svg.append('clipPath').attr('id', clipId).append('rect').attr('x', s0).attr('y', t0).attr('width', s1 - s0).attr('height', t1 - t0);
  const g = svg.append('g').attr('clip-path', `url(#${clipId})`);
  g.selectAll('circle').data(pairs).join('circle')
    .attr('cx', d => B.sx(d[0])).attr('cy', d => B.fy(d[1])).attr('r', 9.5)
    .attr('fill', 'none').attr('stroke', '#000').attr('stroke-width', 3.6);
  g.append('line').attr('x1', B.sx(1e-5)).attr('y1', B.fy(1e-5)).attr('x2', B.sx(1e3)).attr('y2', B.fy(1e3))
    .attr('stroke', BLUE).attr('stroke-width', 2.5);
  box(s0, t0, s1, t1);
  B.yTicks.forEach(v => line(s0 - 20, B.fy(v), s0, B.fy(v), '#000', 3));
  B.yLabels.forEach(s => txt(s0 - 58, B.fy(+s), s, 31, { rot: true }));
  B.xTicks.forEach(v => line(B.sx(v), t1, B.sx(v), t1 + 22, '#000', 2.6));
  B.xLabels.forEach(s => txt(B.sx(+s), t1 + B.lab, s, 31));
  txt(B.titles[2][0], B.titles[2][1], 'simulated flow [mm/d]', 44, { rot: true });
  txt(B.xt[0][2], B.xt[1], 'observed flow [mm/d]', 44);
});
</script>
</body>
</html>
